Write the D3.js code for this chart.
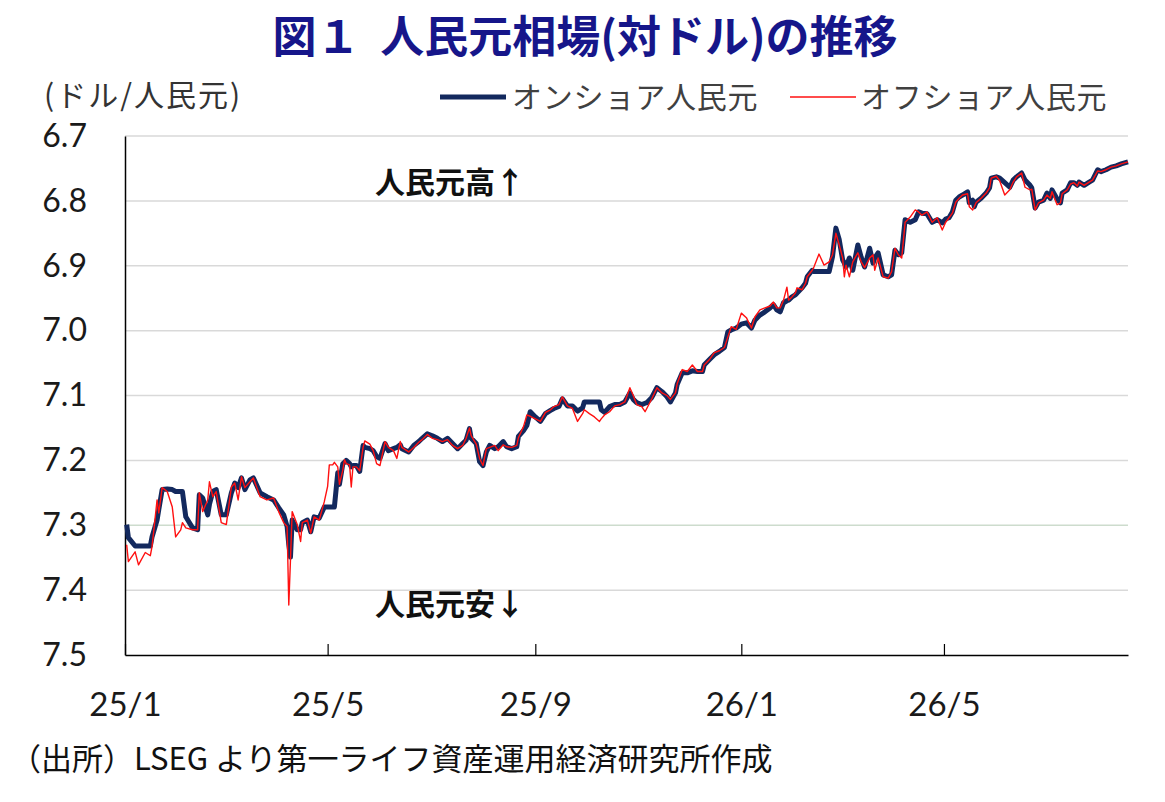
<!DOCTYPE html>
<html><head><meta charset="utf-8">
<script src="https://cdn.jsdelivr.net/npm/d3@7"></script>
<style>
html,body{margin:0;padding:0;background:#fff;}
svg{display:block;}
</style></head>
<body>
<script>
// ---- data ----
const dates = ["2025-01-02","2025-01-03","2025-01-07","2025-01-09","2025-01-13","2025-01-16","2025-01-17","2025-01-20","2025-01-21","2025-01-23","2025-01-26","2025-01-29","2025-01-31","2025-02-03","2025-02-04","2025-02-06","2025-02-10","2025-02-13","2025-02-14","2025-02-16","2025-02-19","2025-02-20","2025-02-22","2025-02-24","2025-02-27","2025-03-02","2025-03-05","2025-03-07","2025-03-09","2025-03-11","2025-03-13","2025-03-16","2025-03-18","2025-03-22","2025-03-26","2025-03-30","2025-04-02","2025-04-05","2025-04-07","2025-04-08","2025-04-09","2025-04-10","2025-04-13","2025-04-15","2025-04-16","2025-04-19","2025-04-21","2025-04-23","2025-04-26","2025-04-29","2025-05-01","2025-05-02","2025-05-04","2025-05-05","2025-05-07","2025-05-08","2025-05-10","2025-05-11","2025-05-12","2025-05-14","2025-05-15","2025-05-16","2025-05-18","2025-05-20","2025-05-22","2025-05-23","2025-05-26","2025-05-28","2025-05-30","2025-06-01","2025-06-04","2025-06-06","2025-06-09","2025-06-11","2025-06-13","2025-06-14","2025-06-18","2025-06-21","2025-06-24","2025-06-26","2025-06-29","2025-07-02","2025-07-05","2025-07-08","2025-07-11","2025-07-14","2025-07-17","2025-07-20","2025-07-22","2025-07-24","2025-07-25","2025-07-28","2025-07-30","2025-08-01","2025-08-03","2025-08-05","2025-08-08","2025-08-10","2025-08-13","2025-08-15","2025-08-18","2025-08-21","2025-08-22","2025-08-25","2025-08-27","2025-08-29","2025-09-01","2025-09-04","2025-09-07","2025-09-10","2025-09-12","2025-09-15","2025-09-17","2025-09-20","2025-09-23","2025-09-26","2025-09-29","2025-09-30","2025-10-03","2025-10-06","2025-10-09","2025-10-10","2025-10-12","2025-10-15","2025-10-18","2025-10-21","2025-10-24","2025-10-27","2025-10-29","2025-10-31","2025-11-03","2025-11-05","2025-11-06","2025-11-09","2025-11-12","2025-11-15","2025-11-18","2025-11-20","2025-11-23","2025-11-24","2025-11-27","2025-11-30","2025-12-03","2025-12-06","2025-12-09","2025-12-10","2025-12-13","2025-12-16","2025-12-19","2025-12-22","2025-12-24","2025-12-26","2025-12-29","2026-01-01","2026-01-04","2026-01-07","2026-01-09","2026-01-12","2026-01-15","2026-01-18","2026-01-20","2026-01-22","2026-01-24","2026-01-26","2026-01-28","2026-01-29","2026-01-31","2026-02-02","2026-02-03","2026-02-06","2026-02-08","2026-02-09","2026-02-12","2026-02-13","2026-02-16","2026-02-19","2026-02-22","2026-02-24","2026-02-26","2026-02-28","2026-03-02","2026-03-03","2026-03-04","2026-03-06","2026-03-08","2026-03-11","2026-03-13","2026-03-15","2026-03-18","2026-03-20","2026-03-21","2026-03-23","2026-03-26","2026-03-29","2026-03-31","2026-04-02","2026-04-04","2026-04-06","2026-04-08","2026-04-11","2026-04-14","2026-04-16","2026-04-18","2026-04-21","2026-04-24","2026-04-27","2026-04-30","2026-05-02","2026-05-04","2026-05-06","2026-05-08","2026-05-10","2026-05-12","2026-05-15","2026-05-16","2026-05-18","2026-05-19","2026-05-20","2026-05-23","2026-05-26","2026-05-28","2026-05-29","2026-06-01","2026-06-03","2026-06-06","2026-06-09","2026-06-11","2026-06-13","2026-06-16","2026-06-18","2026-06-21","2026-06-22","2026-06-24","2026-06-26","2026-06-29","2026-07-01","2026-07-03","2026-07-04","2026-07-07","2026-07-09","2026-07-10","2026-07-13","2026-07-15","2026-07-17","2026-07-19","2026-07-20","2026-07-23","2026-07-26","2026-07-28","2026-07-31","2026-08-02","2026-08-05","2026-08-08","2026-08-11","2026-08-14","2026-08-18"];

const onshore = [7.299,7.319,7.332,7.332,7.332,7.332,7.318,7.292,7.276,7.245,7.244,7.245,7.248,7.248,7.248,7.287,7.304,7.307,7.253,7.258,7.284,7.268,7.248,7.245,7.284,7.284,7.250,7.235,7.242,7.227,7.245,7.230,7.227,7.250,7.256,7.261,7.273,7.284,7.302,7.330,7.349,7.292,7.307,7.307,7.296,7.292,7.310,7.287,7.289,7.272,7.272,7.272,7.272,7.272,7.219,7.237,7.205,7.203,7.200,7.205,7.210,7.208,7.208,7.217,7.177,7.180,7.182,7.185,7.194,7.197,7.174,7.185,7.182,7.180,7.176,7.182,7.187,7.177,7.171,7.166,7.159,7.162,7.166,7.171,7.166,7.174,7.182,7.174,7.169,7.151,7.166,7.174,7.202,7.208,7.187,7.177,7.182,7.179,7.171,7.179,7.182,7.179,7.163,7.154,7.146,7.125,7.133,7.140,7.128,7.123,7.120,7.117,7.105,7.116,7.116,7.124,7.119,7.110,7.110,7.110,7.110,7.122,7.126,7.117,7.114,7.114,7.110,7.096,7.106,7.111,7.114,7.112,7.111,7.103,7.088,7.094,7.102,7.110,7.096,7.083,7.065,7.065,7.062,7.063,7.063,7.053,7.045,7.037,7.032,7.026,7.002,6.999,6.996,6.990,6.988,6.996,6.984,6.976,6.971,6.965,6.960,6.968,6.971,6.957,6.954,6.953,6.948,6.945,6.942,6.934,6.927,6.917,6.907,6.909,6.909,6.909,6.909,6.886,6.842,6.860,6.891,6.896,6.902,6.888,6.907,6.868,6.887,6.902,6.873,6.896,6.888,6.880,6.914,6.917,6.914,6.876,6.883,6.880,6.829,6.833,6.829,6.817,6.819,6.820,6.833,6.829,6.834,6.828,6.826,6.817,6.799,6.794,6.791,6.786,6.803,6.799,6.809,6.802,6.796,6.788,6.780,6.765,6.763,6.765,6.772,6.779,6.768,6.763,6.757,6.768,6.776,6.780,6.811,6.802,6.799,6.788,6.796,6.783,6.797,6.803,6.788,6.783,6.772,6.772,6.776,6.771,6.776,6.771,6.768,6.752,6.755,6.752,6.748,6.746,6.743,6.740];

const offshore = [7.330,7.356,7.341,7.361,7.342,7.347,7.333,7.261,7.281,7.242,7.248,7.272,7.318,7.307,7.296,7.304,7.307,7.307,7.250,7.279,7.261,7.233,7.256,7.248,7.296,7.299,7.241,7.235,7.261,7.225,7.242,7.233,7.227,7.256,7.261,7.258,7.279,7.296,7.302,7.423,7.353,7.279,7.299,7.325,7.296,7.292,7.312,7.287,7.292,7.264,7.240,7.207,7.207,7.203,7.210,7.237,7.215,7.199,7.205,7.207,7.241,7.210,7.210,7.216,7.180,7.170,7.175,7.185,7.205,7.208,7.171,7.180,7.185,7.197,7.171,7.180,7.187,7.180,7.172,7.168,7.160,7.166,7.168,7.171,7.168,7.177,7.182,7.177,7.166,7.150,7.162,7.175,7.197,7.208,7.182,7.180,7.177,7.185,7.176,7.179,7.180,7.177,7.165,7.148,7.130,7.132,7.136,7.140,7.126,7.122,7.117,7.114,7.102,7.116,7.120,7.140,7.128,7.122,7.128,7.133,7.140,7.136,7.130,7.125,7.116,7.114,7.110,7.088,7.100,7.114,7.117,7.125,7.120,7.105,7.088,7.096,7.100,7.106,7.096,7.082,7.060,7.063,7.053,7.063,7.063,7.053,7.045,7.034,7.031,7.026,7.010,6.994,6.998,6.973,6.980,6.996,6.979,6.968,6.965,6.962,6.956,6.965,6.965,6.953,6.933,6.953,6.948,6.942,6.934,6.937,6.927,6.917,6.907,6.902,6.882,6.899,6.894,6.883,6.850,6.868,6.888,6.917,6.899,6.917,6.894,6.880,6.894,6.903,6.888,6.883,6.907,6.888,6.917,6.919,6.909,6.873,6.883,6.888,6.833,6.825,6.814,6.817,6.822,6.817,6.833,6.826,6.845,6.833,6.826,6.819,6.802,6.796,6.791,6.789,6.809,6.814,6.809,6.803,6.796,6.788,6.780,6.765,6.762,6.769,6.791,6.783,6.771,6.763,6.757,6.779,6.783,6.782,6.814,6.803,6.799,6.791,6.796,6.786,6.806,6.803,6.789,6.783,6.774,6.772,6.777,6.771,6.776,6.771,6.768,6.754,6.755,6.752,6.748,6.746,6.743,6.740];

const seriesNames = ["オンショア人民元", "オフショア人民元"];
const xTickDates = ["2025-01-01","2025-05-01","2025-09-01","2026-01-01","2026-05-01"];
const xTickLabels = ["25/1","25/5","25/9","26/1","26/5"];
const yTicks = [6.7, 6.8, 6.9, 7.0, 7.1, 7.2, 7.3, 7.4, 7.5];
const xDomain = ["2025-01-01", "2026-08-18"];

const titleText = "図１  人民元相場(対ドル)の推移";
const unitText = "(ドル/人民元)";
const highText = "人民元高↑";
const lowText = "人民元安↓";
const sourceText = "（出所）LSEG より第一ライフ資産運用経済研究所作成";

// ---- drawing ----
const W = 1165, H = 802;
const M = {left: 125, right: 1128, top: 136, bottom: 655};
const parse = d3.timeParse("%Y-%m-%d");

const svg = d3.select("body").append("svg").attr("width", W).attr("height", H);

const x = d3.scaleTime().domain(xDomain.map(parse)).range([M.left, M.right]);
const y = d3.scaleLinear().domain([6.7, 7.5]).range([M.top, M.bottom]);

const latin = "Lato, 'Open Sans', 'DejaVu Sans', sans-serif";
const jp = "'Noto Sans CJK JP', 'Noto Sans', sans-serif";

// title
svg.append("text").attr("x", 585).attr("y", 53).attr("text-anchor", "middle")
  .style("white-space", "pre")
  .attr("font-family", jp).attr("font-weight", 700).attr("font-size", 44)
  .attr("fill", "#16168a").text(titleText);

// unit label
svg.append("text").attr("x", 44).attr("y", 106)
  .attr("font-family", jp).attr("font-size", 30).attr("letter-spacing", 2).attr("fill", "#333")
  .text(unitText);

// gridlines
svg.append("g").selectAll("line").data(yTicks.slice(0, -1)).join("line")
  .attr("x1", M.left).attr("x2", M.right)
  .attr("y1", d => y(d)).attr("y2", d => y(d))
  .attr("stroke", d => Math.abs(d - 7.3) < 1e-9 ? "#cddccd" : "#d9d9d9")
  .attr("stroke-width", 1.5);

// y axis
const yAxis = d3.axisLeft(y).tickValues(yTicks).tickFormat(d => d.toFixed(1)).tickSize(0).tickPadding(38);
const gy = svg.append("g").attr("transform", `translate(${M.left},0)`).call(yAxis);
gy.select(".domain").attr("stroke", "#000").attr("stroke-width", 1.5);
gy.selectAll("text").attr("font-family", latin).attr("font-size", 32).attr("fill", "#1a1a1a");

// x axis
const xAxis = d3.axisBottom(x).tickValues(xTickDates.map(parse))
  .tickFormat((d, i) => xTickLabels[i]).tickSizeInner(-11).tickSizeOuter(0).tickPadding(38);
const gx = svg.append("g").attr("transform", `translate(0,${M.bottom})`).call(xAxis);
gx.select(".domain").attr("stroke", "#000").attr("stroke-width", 1.5);
gx.selectAll(".tick line").attr("stroke", "#000").attr("stroke-width", 1.2);
gx.selectAll("text").attr("font-family", latin).attr("font-size", 33).attr("fill", "#1a1a1a");

// lines
const dts = dates.map(parse);
const line = d3.line().x(d => x(d[0])).y(d => y(d[1]));
svg.append("path").datum(dts.map((d, i) => [d, onshore[i]]))
  .attr("d", line).attr("fill", "none").attr("stroke", "#13295e")
  .attr("stroke-width", 5).attr("stroke-linejoin", "round");
svg.append("path").datum(dts.map((d, i) => [d, offshore[i]]))
  .attr("d", line).attr("fill", "none").attr("stroke", "#ff1010")
  .attr("stroke-width", 1.4).attr("stroke-linejoin", "round");

// legend
const lg = svg.append("g");
lg.append("line").attr("x1", 440).attr("x2", 506).attr("y1", 97).attr("y2", 97)
  .attr("stroke", "#13295e").attr("stroke-width", 5);
lg.append("text").attr("x", 512).attr("y", 108).attr("font-family", jp)
  .attr("font-size", 30).attr("letter-spacing", 0.8).attr("fill", "#404040").text(seriesNames[0]);
lg.append("line").attr("x1", 790).attr("x2", 856).attr("y1", 97).attr("y2", 97)
  .attr("stroke", "#ff1010").attr("stroke-width", 1.5);
lg.append("text").attr("x", 861).attr("y", 108).attr("font-family", jp)
  .attr("font-size", 30).attr("letter-spacing", 0.8).attr("fill", "#404040").text(seriesNames[1]);

// annotations
svg.append("text").attr("x", 375).attr("y", 193).attr("font-family", jp)
  .attr("font-weight", 700).attr("font-size", 30).attr("fill", "#111").text(highText);
svg.append("text").attr("x", 375).attr("y", 615).attr("font-family", jp)
  .attr("font-weight", 700).attr("font-size", 30).attr("fill", "#111").text(lowText);

// source
svg.append("text").attr("x", 10).attr("y", 770).attr("font-family", jp)
  .attr("font-size", 31).attr("fill", "#111").text(sourceText);
</script>
</body></html>
